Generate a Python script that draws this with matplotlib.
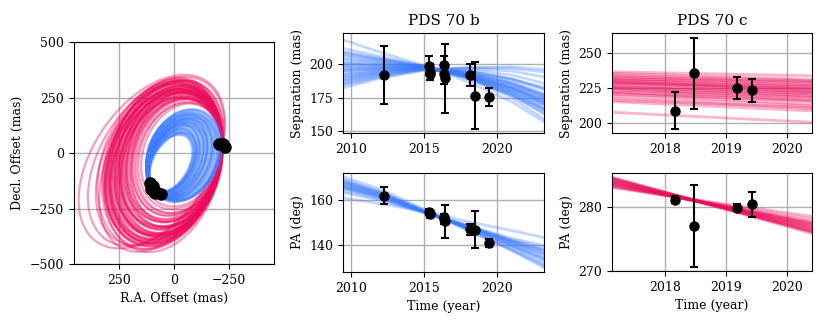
import numpy as np
import matplotlib.pyplot as plt
from matplotlib.patches import Ellipse

plt.rcParams['font.family'] = 'DejaVu Serif'
plt.rcParams['font.size'] = 9

blue = '#3b7bff'
red = '#ec0a5c'

# observations PDS 70 b
b_epoch = [2012.24, 2015.35, 2015.42, 2015.38, 2016.35, 2016.38, 2016.42, 2018.12, 2018.47, 2019.43]
b_sep = [192.0, 199.0, 194.5, 193.0, 199.5, 193.0, 189.5, 192.0, 176.5, 175.8]
b_sep_err = [21.5, 7.0, 6.0, 5.0, 6.5, 8.0, 26.0, 8.0, 25.0, 6.8]
b_pa = [162.1, 154.8, 154.2, 153.7, 152.5, 151.5, 150.7, 147.0, 146.9, 140.9]
b_pa_err = [3.8, 1.5, 1.5, 1.5, 1.5, 2.0, 7.3, 2.3, 8.4, 1.8]

# observations PDS 70 c
c_epoch = [2018.15, 2018.47, 2019.17, 2019.43]
c_sep = [209.0, 235.2, 224.8, 223.3]
c_sep_err = [13.0, 25.0, 8.0, 8.0]
c_pa = [281.15, 277.0, 279.9, 280.4]
c_pa_err = [0.5, 6.4, 0.5, 2.0]

# projected orbits: semi-axes (mas), angle (deg), phase of the observed point (deg)
b_orb_a = [140, 143, 146, 150, 153, 156, 160, 163, 166, 170, 173, 176, 180, 183, 186, 190,
           193, 196, 200, 203, 206, 210, 212, 215,
           145, 155, 165, 175, 185, 195, 205, 150, 170, 190, 200, 180]
b_orb_b = [84, 87, 90, 93, 96, 99, 102, 105, 108, 112, 116, 120, 124, 128, 132, 136,
           140, 144, 148, 152, 156, 159, 161, 163,
           90, 97, 104, 115, 122, 138, 150, 88, 106, 128, 142, 118]
b_orb_ang = [-61, -61, -61, -62, -62, -62, -62, -63, -63, -63, -63, -63, -64, -64, -64, -64,
             -64, -65, -65, -65, -65, -65, -66, -66,
             -60, -61, -62, -63, -63, -64, -65, -60, -62, -64, -64, -63]
b_orb_t = [4, 5, 6, 7, 8, 9, 10, 10, 11, 12, 13, 14, 14, 15, 16, 16,
           17, 18, 18, 19, 20, 20, 21, 22,
           0, 2, 4, 10, 12, 15, 24, 8, 15, 22, 25, 18]

c_orb_a = [265, 275, 285, 295, 300, 305, 310, 315, 320, 325, 330, 335, 340, 345, 350, 355,
           360, 365, 370, 375, 380, 385, 390, 395,
           290, 310, 330, 350, 370, 390, 300, 320, 340, 360, 380,
           400, 420, 440, 410, 280, 300, 320, 345, 365,
           240, 250, 255, 270, 335, 355]
c_orb_b = [190, 195, 200, 205, 210, 212, 215, 218, 220, 222, 225, 228, 230, 232, 235, 238,
           240, 242, 245, 248, 250, 252, 255, 258,
           215, 225, 235, 245, 255, 265, 200, 210, 222, 232, 245,
           250, 255, 265, 245, 205, 220, 230, 240, 250,
           175, 182, 188, 196, 236, 246]
c_orb_ang = [-70, -71, -71, -72, -72, -73, -72, -71, -73, -72, -72, -73, -71, -72, -73, -72,
             -71, -72, -73, -72, -71, -72, -73, -72,
             -69, -70, -70, -69, -70, -69, -74, -75, -74, -75, -74,
             -62, -58, -55, -65, -68, -70, -71, -70, -71,
             -69, -70, -71, -70, -68, -67]
c_orb_t = [-116, -115, -116, -115, -114, -116, -115, -117, -115, -114, -116, -115, -117, -115, -114, -116,
           -115, -117, -115, -114, -116, -115, -117, -115,
           -119, -118, -119, -120, -118, -119, -111, -110, -112, -110, -111,
           -121, -122, -124, -120, -120, -121, -122, -121, -120,
           -117, -116, -118, -117, -121, -122]

# model tracks PDS 70 b
b_knots = [2009.0, 2012.0, 2015.0, 2018.0, 2021.0, 2023.5]
b_sep_model = [
    [213, 206, 198.5, 189, 177, 164],
    [210, 204.5, 198.5, 190, 178, 165],
    [207, 203, 198, 190, 177, 162],
    [204, 201.5, 198, 190.5, 179, 166],
    [201, 200, 198, 191, 180, 168],
    [198, 198.5, 197.5, 191.5, 181, 169],
    [195, 197, 197.5, 192, 182, 170],
    [192, 195.5, 197, 192.5, 183, 171],
    [189, 194, 197, 193.5, 185, 174],
    [186, 192.5, 196.5, 194, 187, 177],
    [184, 191, 196, 195, 189, 180],
    [205, 202, 198, 192, 183, 173],
    [199, 199, 197.5, 193, 186, 176],
    [193, 196, 197, 194.5, 189, 181],
    [188, 193.5, 196.5, 196, 192, 185],
    [185, 192, 196.5, 197, 195, 190],
    [183, 190.5, 196, 197.5, 197, 194],
    [210, 204, 198.5, 191, 182, 172],
    [220, 209, 199, 187, 172, 155],
    [181, 189.5, 195.5, 197.5, 198, 196],
    [196, 197.5, 198, 190, 175, 157],
    [208, 203.5, 198.5, 191, 180, 169],
    [202, 200.5, 198, 192, 182, 171],
    [197, 197.5, 197.5, 192.5, 183.5, 174],
    [191, 195, 197, 193, 185, 176],
    [187, 193, 196.5, 195, 189, 182],
    [195, 196.5, 197, 191, 179, 165],
    [200, 199.5, 198, 190, 177, 161],
    [190, 194.5, 197, 194, 186, 175],
]
b_pa_model = [
    [170.5, 164, 155.5, 147, 138, 130],
    [169.5, 163.5, 155.3, 147.3, 139, 131.5],
    [169, 163, 155.2, 147.6, 139.5, 132.5],
    [168.5, 162.7, 155, 147.8, 140, 133.5],
    [168, 162.5, 155, 148, 140.5, 134],
    [167.5, 162, 154.8, 148, 141, 135],
    [167, 161.8, 154.8, 148.3, 141.3, 136],
    [166.5, 161.5, 154.7, 148.3, 141.8, 136.8],
    [166, 161, 154.6, 148.5, 142, 137.5],
    [165, 160.5, 154.5, 148.5, 142.5, 138.5],
    [164, 160, 154.5, 149, 143, 139.5],
    [161.5, 158.5, 155, 150.5, 146.5, 143],
    [171.5, 165, 156, 147, 137.5, 129],
    [170, 163.5, 155, 146.5, 138, 130.5],
    [168.8, 163.2, 155.1, 147.5, 139.8, 133],
    [167.2, 162.1, 154.9, 148.1, 141.2, 135.5],
    [166.2, 161.3, 154.7, 148.4, 141.9, 137.2],
]

# model tracks PDS 70 c
c_knots = [2017.0, 2020.5]
c_sep_model = [
    [236.5, 233.5], [235.5, 231], [234.5, 230], [233.5, 228], [233, 229.5],
    [232, 226.5], [231, 225], [230.5, 227], [229.5, 224], [229, 222],
    [228, 224.5], [227.5, 221], [226.5, 219], [226, 222.5], [225, 218],
    [224.5, 216], [223.5, 220], [222.5, 215], [221.5, 213], [220.5, 216],
    [219.5, 212], [218, 210], [216.5, 211], [215.5, 208.5], [208, 200.5],
    [231.5, 229], [228.5, 226], [225.5, 221], [222, 218], [230, 223],
]
c_pa_model = [
    [284.95, 275.6], [284.8, 275.9], [284.6, 276.2], [284.4, 276.4], [284.2, 276.6],
    [284.0, 276.8], [283.9, 277.0], [283.7, 277.2], [283.6, 277.4], [283.5, 277.6],
    [283.3, 278.0], [283.2, 278.4], [284.9, 275.8], [284.7, 276.0], [284.5, 276.5],
    [284.1, 276.9], [283.8, 277.3], [284.3, 276.1],
]

fig = plt.figure(figsize=(8.3, 3.23), dpi=100)
ax_orb = fig.add_axes([0.0892, 0.1827, 0.241, 0.687])
ax_bs = fig.add_axes([0.4133, 0.5882, 0.2422, 0.3096])
ax_bp = fig.add_axes([0.4133, 0.1579, 0.2422, 0.3065])
ax_cs = fig.add_axes([0.7373, 0.5882, 0.241, 0.3096])
ax_cp = fig.add_axes([0.7373, 0.1610, 0.241, 0.3034])

# sky positions of the data
b_ra = np.array(b_sep) * np.sin(np.radians(b_pa))
b_dec = np.array(b_sep) * np.cos(np.radians(b_pa))
c_ra = np.array(c_sep) * np.sin(np.radians(c_pa))
c_dec = np.array(c_sep) * np.cos(np.radians(c_pa))


def draw_orbits(ax, px, py, a_l, b_l, ang_l, t_l, col, alpha):
    # ellipse placed so that the observed position lies on it at phase t
    for a, b, ang, t in zip(a_l, b_l, ang_l, t_l):
        th = np.radians(ang)
        tt = np.radians(t)
        u = np.array([np.cos(th), np.sin(th)])
        v = np.array([-np.sin(th), np.cos(th)])
        off = a * np.cos(tt) * u + b * np.sin(tt) * v
        e = Ellipse((px - off[0], py - off[1]), 2 * a, 2 * b, angle=ang,
                    fill=False, edgecolor=col, alpha=alpha, lw=1.6)
        ax.add_patch(e)


draw_orbits(ax_orb, c_ra.mean(), c_dec.mean(), c_orb_a, c_orb_b, c_orb_ang, c_orb_t, red, 0.4)
draw_orbits(ax_orb, b_ra.mean(), b_dec.mean(), b_orb_a, b_orb_b, b_orb_ang, b_orb_t, blue, 0.4)
ax_orb.plot(b_ra, b_dec, 'o', color='k', ms=8, zorder=5)
ax_orb.plot(c_ra, c_dec, 'o', color='k', ms=8, zorder=5)
ax_orb.set_xlim(455, -455)
ax_orb.set_ylim(-500, 500)
ax_orb.set_xticks([250, 0, -250])
ax_orb.set_yticks([-500, -250, 0, 250, 500])
ax_orb.grid(True, color='#b0b0b0', lw=1)
ax_orb.set_axisbelow(True)
ax_orb.set_xlabel('R.A. Offset (mas)')
ax_orb.set_ylabel('Decl. Offset (mas)')

for tr in b_sep_model:
    ax_bs.plot(b_knots, tr, color=blue, alpha=0.3, lw=2)
for tr in b_pa_model:
    ax_bp.plot(b_knots, tr, color=blue, alpha=0.3, lw=2)
for tr in c_sep_model:
    ax_cs.plot(c_knots, tr, color=red, alpha=0.3, lw=2)
for tr in c_pa_model:
    ax_cp.plot(c_knots, tr, color=red, alpha=0.3, lw=2)

eb = dict(fmt='o', color='k', ms=6.5, capsize=3, elinewidth=1.5, capthick=1.5, zorder=5)
ax_bs.errorbar(b_epoch, b_sep, yerr=b_sep_err, **eb)
ax_bp.errorbar(b_epoch, b_pa, yerr=b_pa_err, **eb)
ax_cs.errorbar(c_epoch, c_sep, yerr=c_sep_err, **eb)
ax_cp.errorbar(c_epoch, c_pa, yerr=c_pa_err, **eb)

ax_bs.set_xlim(2009.43, 2023.23)
ax_bs.set_ylim(148.5, 223.5)
ax_bs.set_yticks([150, 175, 200])
ax_bp.set_xlim(2009.43, 2023.23)
ax_bp.set_ylim(128, 172.2)
ax_bp.set_yticks([140, 160])
for ax in (ax_bs, ax_bp):
    ax.set_xticks([2010, 2015, 2020])

ax_cs.set_xlim(2017.12, 2020.41)
ax_cs.set_ylim(193.1, 263.8)
ax_cs.set_yticks([200, 225, 250])
ax_cp.set_xlim(2017.12, 2020.41)
ax_cp.set_ylim(270, 285.3)
ax_cp.set_yticks([270, 280])
for ax in (ax_cs, ax_cp):
    ax.set_xticks([2018, 2019, 2020])

for ax in (ax_bs, ax_bp, ax_cs, ax_cp):
    ax.grid(True, color='#b0b0b0', lw=1)

ax_bs.set_title('PDS 70 b', fontsize=11)
ax_cs.set_title('PDS 70 c', fontsize=11)
ax_bs.set_ylabel('Separation (mas)')
ax_cs.set_ylabel('Separation (mas)')
ax_bp.set_ylabel('PA (deg)')
ax_cp.set_ylabel('PA (deg)')
ax_bp.set_xlabel('Time (year)')
ax_cp.set_xlabel('Time (year)')

fig.savefig('out.png', dpi=100)
